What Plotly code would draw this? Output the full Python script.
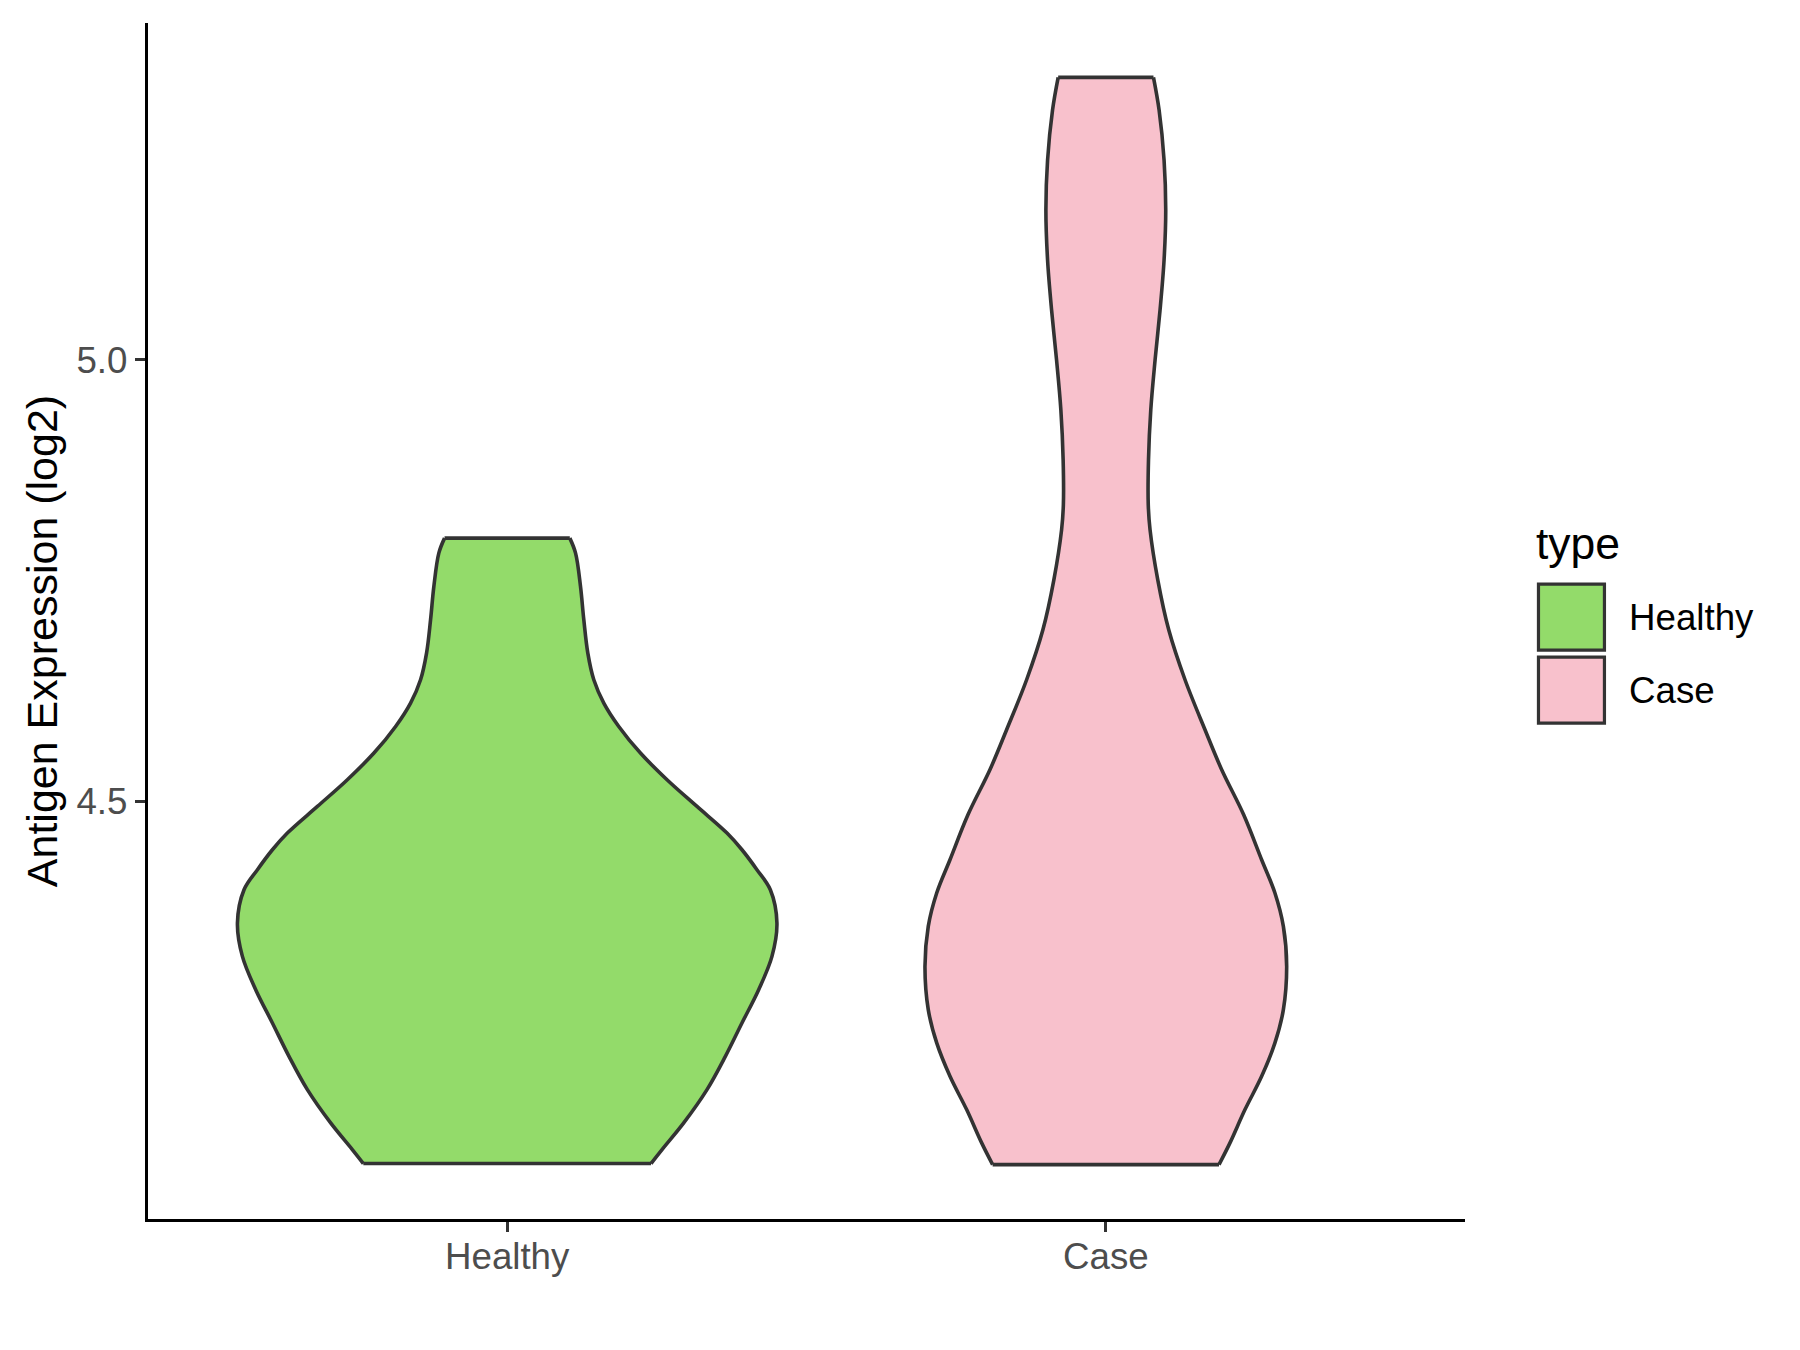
import plotly.graph_objects as go

categories = ["Healthy", "Case"]
fill_colors = ["#93DB6A", "#F8C1CC"]

# Violin outlines: expression level and half-width (in category units)
healthy_y = [4.0899, 4.1057, 4.1359, 4.1736, 4.2113, 4.2491, 4.2868, 4.3245, 4.3623, 4.4000,
             4.4227, 4.4453, 4.4642, 4.4943, 4.5246, 4.5548, 4.5849, 4.6114, 4.6378, 4.6680,
             4.7057, 4.7434, 4.7812, 4.7982]
healthy_hw = [0.2403, 0.2587, 0.2949, 0.3338, 0.3645, 0.3922, 0.4201, 0.4423, 0.4506, 0.4396,
              0.4172, 0.3922, 0.3672, 0.3171, 0.2670, 0.2226, 0.1864, 0.1614, 0.1447, 0.1347,
              0.1280, 0.1225, 0.1142, 0.1046]

case_y = [4.0887, 4.1133, 4.1510, 4.1887, 4.2265, 4.2642, 4.3132, 4.3585, 4.3963, 4.4340,
          4.4849, 4.5359, 4.5812, 4.6378, 4.6944, 4.7510, 4.8076, 4.8359, 4.8868, 4.9434,
          5.0000, 5.0566, 5.1132, 5.1698, 5.2264, 5.2830, 5.3200]
case_hw = [0.1891, 0.2074, 0.2325, 0.2603, 0.2825, 0.2966, 0.3021, 0.2966, 0.2825, 0.2603,
           0.2303, 0.1936, 0.1657, 0.1323, 0.1051, 0.0868, 0.0739, 0.0709, 0.0713, 0.0751,
           0.0823, 0.0906, 0.0973, 0.1001, 0.0973, 0.0890, 0.0796]

y_ticks = [4.5, 5.0]
y_tick_text = ["4.5", "5.0"]

profiles = [(healthy_y, healthy_hw), (case_y, case_hw)]
edge = dict(color="#333333", width=3.6)

fig = go.Figure()
for i, (cat, (ys, hws)) in enumerate(zip(categories, profiles)):
    pos = i + 1
    # right side of the violin
    fig.add_trace(go.Scatter(
        x=[pos + w for w in hws], y=ys, mode="lines",
        line=dict(edge, shape="spline", smoothing=1.0),
        showlegend=False, hoverinfo="skip",
    ))
    # left side, filled across to the right side
    fig.add_trace(go.Scatter(
        x=[pos - w for w in hws], y=ys, mode="lines",
        fill="tonextx", fillcolor=fill_colors[i],
        line=dict(edge, shape="spline", smoothing=1.0),
        name=cat, showlegend=False, hoverinfo="skip",
    ))
    # flat trimmed ends (bottom and top)
    for k in (0, -1):
        fig.add_trace(go.Scatter(
            x=[pos - hws[k], pos + hws[k]], y=[ys[k], ys[k]], mode="lines",
            line=edge, showlegend=False, hoverinfo="skip",
        ))

font_family = "Liberation Sans, Arial, sans-serif"

W, H = 1800, 1350
OFF = 8  # page offset of the figure
L, T = 140, 15
R_px, B_px = 1457.5, 1210.7
plotW, plotH = R_px - L, B_px - T


def px_x(px):
    return (px - OFF - L) / plotW


def px_y(py):
    return (B_px - (py - OFF)) / plotH


shapes = []
annotations = []
annotations.append(dict(x=px_x(1535), y=px_y(543), xref="paper", yref="paper",
                        text="type", showarrow=False, xanchor="left", yanchor="middle",
                        font=dict(family=font_family, size=44.5, color="black")))
key_tops = [584, 657]
for i, cat in enumerate(categories):
    top = key_tops[i]
    shapes.append(dict(type="rect", xref="paper", yref="paper",
                       x0=px_x(1539), x1=px_x(1605), y0=px_y(top + 66), y1=px_y(top),
                       fillcolor=fill_colors[i], line=dict(color="#333333", width=3.2)))
    annotations.append(dict(x=px_x(1628), y=px_y(top + 33), xref="paper", yref="paper",
                            text=cat, showarrow=False, xanchor="left", yanchor="middle",
                            font=dict(family=font_family, size=36.7, color="black")))
# y axis title
annotations.append(dict(x=px_x(42), y=px_y(641), xref="paper", yref="paper",
                        text="Antigen Expression (log2)", textangle=-90, showarrow=False,
                        xanchor="center", yanchor="middle",
                        font=dict(family=font_family, size=43, color="black")))

fig.update_layout(
    width=W, height=H,
    margin=dict(l=L, r=W - R_px, t=T, b=H - B_px, pad=0),
    paper_bgcolor="white", plot_bgcolor="white",
    font=dict(family=font_family),
    showlegend=False,
    shapes=shapes, annotations=annotations,
    xaxis=dict(
        range=[0.4, 2.6], tickvals=[1, 2], ticktext=categories,
        showgrid=False, zeroline=False,
        showline=True, linecolor="black", linewidth=3.4,
        ticks="outside", ticklen=10, tickwidth=3, tickcolor="#333333",
        tickfont=dict(family=font_family, size=36.7, color="#4D4D4D"),
        ticklabelstandoff=-7,
    ),
    yaxis=dict(
        range=[4.0271, 5.3816], tickvals=y_ticks, ticktext=y_tick_text,
        showgrid=False, zeroline=False,
        showline=True, linecolor="black", linewidth=3.4,
        ticks="outside", ticklen=10, tickwidth=3, tickcolor="#333333",
        tickfont=dict(family=font_family, size=36.7, color="#4D4D4D"),
    ),
)

fig.write_html("out.html")
